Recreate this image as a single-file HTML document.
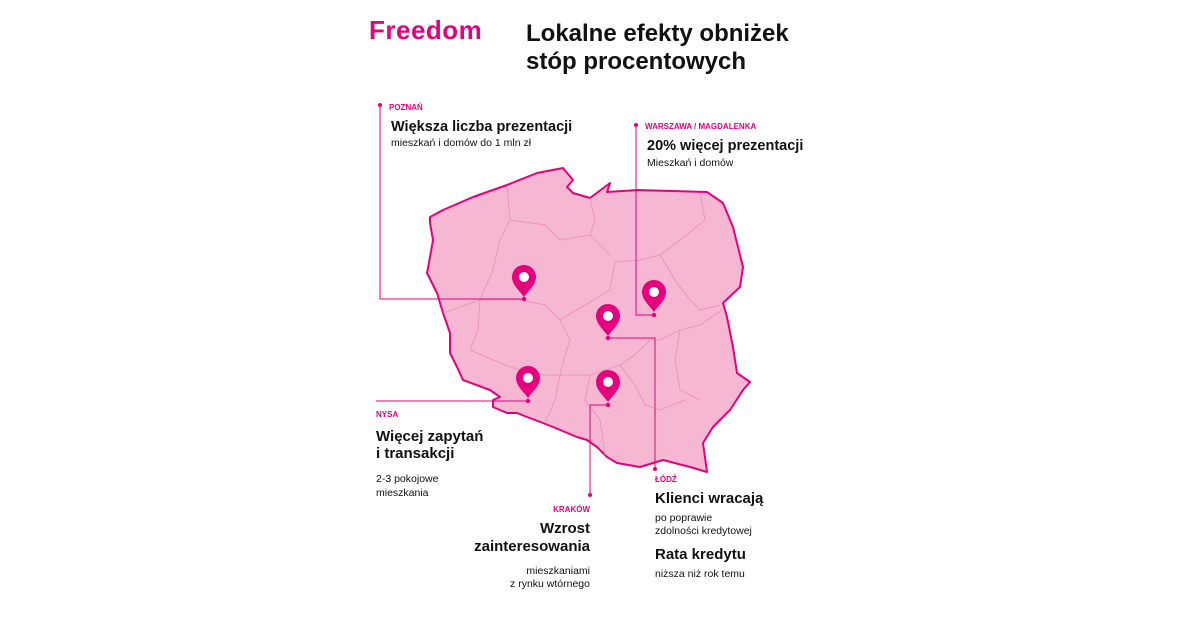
<!DOCTYPE html>
<html><head><meta charset="utf-8"><style>
body{margin:0;width:1200px;height:630px;background:#fff;position:relative;overflow:hidden;font-family:"Liberation Sans",sans-serif;color:#111}
.t{position:absolute;white-space:nowrap;line-height:1}
.lab{color:#e6007e;font-weight:bold;font-size:8px}
.h{font-weight:bold;font-size:14.5px}
.s{font-size:10.5px}
.r{text-align:right}
</style></head><body>
<div class="t" style="left:369px;top:17px;font-size:26px;font-weight:bold;color:#e6007e;letter-spacing:0.5px">Freedom</div>
<div class="t" style="left:526px;top:20px;font-size:24px;font-weight:bold;line-height:28px">Lokalne efekty obniżek<br>stóp procentowych</div>

<svg width="1200" height="630" style="position:absolute;left:0;top:0">
<path d="M430,217 L443,210 L473,197 L507,185 L537,173 L563,168 L573,180 L567,187 L573,193 L590,198 L610,183 L607,192 L637,190 L707,192 L723,203 L733,227 L743,267 L740,287 L723,303 L727,317 L733,347 L737,373 L750,382 L743,390 L730,410 L713,427 L703,443 L707,472 L690,467 L663,460 L640,467 L617,463 L607,457 L597,447 L587,440 L577,437 L553,427 L543,423 L527,417 L517,413 L507,413 L493,407 L493,400 L500,397 L490,390 L463,380 L457,367 L450,353 L450,333 L443,313 L437,293 L427,273 L430,257 L433,240 L430,223 Z" fill="#f5b7d2" stroke="#e6007e" stroke-width="2" stroke-linejoin="round"/>
<g fill="none" stroke="#ec8cbb" stroke-width="0.8">
<path d="M507,187 L510,220 L500,240 L493,270 L480,300 L478,330 L470,350"/>
<path d="M510,220 L545,225 L560,240 L590,235 L610,255"/>
<path d="M590,198 L595,220 L590,235"/>
<path d="M700,193 L705,220 L680,240 L660,255 L640,260 L615,262"/>
<path d="M615,262 L610,290 L585,305 L560,320"/>
<path d="M660,255 L675,280 L690,300 L700,310 L720,305"/>
<path d="M443,313 L480,300 L520,300 L545,305 L560,320 L570,340 L565,355 L560,375"/>
<path d="M470,350 L505,365 L520,370 L545,375 L560,375 L590,375 L620,365 L635,355 L650,340 L660,340"/>
<path d="M660,340 L680,330 L700,325 L722,310"/>
<path d="M680,330 L675,360 L680,390 L700,400"/>
<path d="M590,375 L585,400 L600,420 L605,455"/>
<path d="M620,365 L635,385 L645,405 L660,410 L685,400"/>
<path d="M560,375 L555,400 L545,423"/>
</g>
<g stroke="#e6007e" stroke-width="1" fill="none">
<path d="M524,299 H380 V105"/>
<path d="M654,315 H636 V125"/>
<path d="M608,338 H655 V469"/>
<path d="M528,401 H376"/>
<path d="M608,405 H590 V495"/>
</g>
<g fill="#e6007e">
<circle cx="380" cy="105" r="2"/><circle cx="636" cy="125" r="2"/><circle cx="655" cy="469" r="2"/><circle cx="590" cy="495" r="2"/>
<circle cx="524" cy="299" r="2.2"/><circle cx="654" cy="315" r="2.2"/><circle cx="608" cy="338" r="2.2"/><circle cx="528" cy="401" r="2.2"/><circle cx="608" cy="405" r="2.2"/>
</g>
<defs><g id="pin"><path d="M0,16 C-4,10 -12,4 -12,-4 A12,12 0 0 1 12,-4 C12,4 4,10 0,16 Z" fill="#e6007e"/><circle cx="0" cy="-4" r="5" fill="#fff"/></g></defs>
<use href="#pin" x="524" y="281"/>
<use href="#pin" x="654" y="296"/>
<use href="#pin" x="608" y="320"/>
<use href="#pin" x="528" y="382"/>
<use href="#pin" x="608" y="386"/>
</svg>

<div class="t lab" style="left:389px;top:104px">POZNAŃ</div>
<div class="t h" style="left:391px;top:120px">Większa liczba prezentacji</div>
<div class="t s" style="left:391px;top:138px">mieszkań i domów do 1 mln zł</div>

<div class="t lab" style="left:645px;top:123px">WARSZAWA / MAGDALENKA</div>
<div class="t h" style="left:647px;top:139px">20% więcej prezentacji</div>
<div class="t s" style="left:647px;top:158px">Mieszkań i domów</div>

<div class="t lab" style="left:376px;top:411px">NYSA</div>
<div class="t h" style="left:376px;top:428px;font-size:15px;line-height:17px">Więcej zapytań<br>i transakcji</div>
<div class="t s" style="left:376px;top:472px;line-height:14px">2-3 pokojowe<br>mieszkania</div>

<div class="t lab r" style="left:490px;width:100px;top:506px">KRAKÓW</div>
<div class="t h r" style="left:440px;width:150px;top:520px;font-size:15px;line-height:18px">Wzrost<br>zainteresowania</div>
<div class="t s r" style="left:440px;width:150px;top:565px;line-height:13px">mieszkaniami<br>z rynku wtórnego</div>

<div class="t lab" style="left:655px;top:476px">ŁÓDŹ</div>
<div class="t h" style="left:655px;top:491px;font-size:15px">Klienci wracają</div>
<div class="t s" style="left:655px;top:512px;line-height:13px">po poprawie<br>zdolności kredytowej</div>
<div class="t h" style="left:655px;top:547px;font-size:15px">Rata kredytu</div>
<div class="t s" style="left:655px;top:569px">niższa niż rok temu</div>
</body></html>
